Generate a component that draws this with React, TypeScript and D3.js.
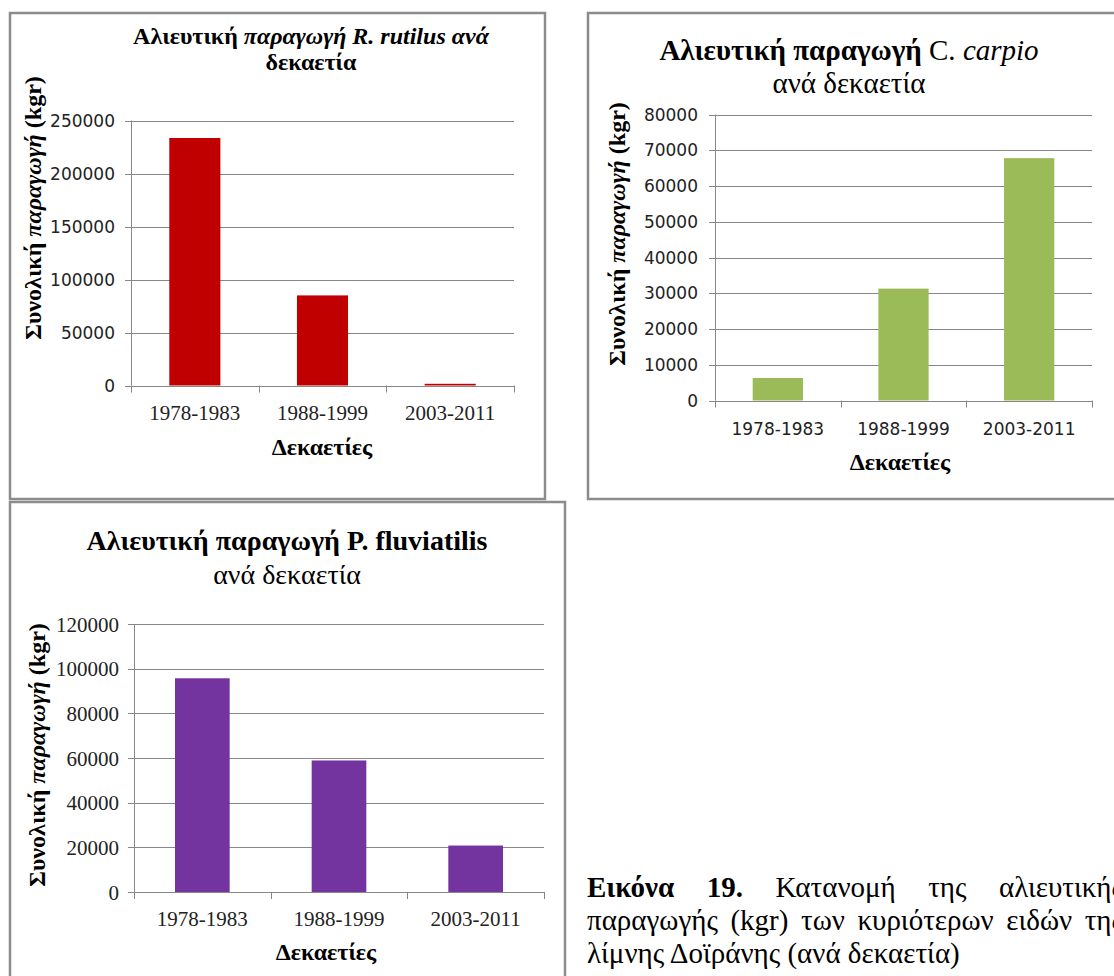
import React, { useEffect, useRef } from 'react';
import * as d3 from 'd3';

// decades on the x axis and production (kgr) per species
const decades = ['1978-1983', '1988-1999', '2003-2011'];
const rutilusProduction = [233500, 85000, 1600];
const carpioProduction = [6300, 31300, 67800];
const fluviatilisProduction = [95700, 58900, 20800];

const rutilusTicks = [0, 50000, 100000, 150000, 200000, 250000];
const carpioTicks = [0, 10000, 20000, 30000, 40000, 50000, 60000, 70000, 80000];
const fluviatilisTicks = [0, 20000, 40000, 60000, 80000, 100000, 120000];

const captionLine1 = ['Εικόνα', '19.', 'Κατανομή', 'της', 'αλιευτικής'];
const captionLine2 = ['παραγωγής', '(kgr)', 'των', 'κυριότερων', 'ειδών', 'της'];
const captionLine3 = 'λίμνης Δοϊράνης (ανά δεκαετία)';

const SERIF = '"Liberation Serif", "Times New Roman", serif';
const SANS = '"DejaVu Sans", Verdana, sans-serif';
const GRID = '#878787';
const FRAME = '#8c8c8c';

type Span = { t: string; bold?: boolean; italic?: boolean };

const charts = [
  {
    values: rutilusProduction,
    ticks: rutilusTicks,
    color: '#C00000',
    frame: { x: 10, y: 13, w: 535, h: 486 },
    plot: { left: 131, right: 514, top: 120.5, bottom: 385.5 },
    title: {
      x: 311, size: 24,
      lines: [
        { y: 44, spans: [{ t: 'Αλιευτική ', bold: true }, { t: 'παραγωγή ', bold: true, italic: true }, { t: 'R. rutilus ανά', bold: true, italic: true }] as Span[] },
        { y: 70, spans: [{ t: 'δεκαετία', bold: true }] as Span[] },
      ],
    },
    yTitle: { x: 33, y: 208, size: 24 },
    tickFont: SANS, tickSize: 17, tickRight: 115,
    catFont: SERIF, catSize: 21, catY: 420,
    xTitle: { x: 322, y: 455, size: 24 },
  },
  {
    values: carpioProduction,
    ticks: carpioTicks,
    color: '#9BBB59',
    frame: { x: 588, y: 13, w: 540, h: 486 },
    plot: { left: 715, right: 1092, top: 114.5, bottom: 400.5 },
    title: {
      x: 849, size: 29,
      lines: [
        { y: 60, spans: [{ t: 'Αλιευτική παραγωγή ', bold: true }, { t: 'C. ' }, { t: 'carpio', italic: true }] as Span[] },
        { y: 93, spans: [{ t: 'ανά δεκαετία' }] as Span[] },
      ],
    },
    yTitle: { x: 617, y: 234, size: 24 },
    tickFont: SANS, tickSize: 17, tickRight: 698,
    catFont: SANS, catSize: 17, catY: 435,
    xTitle: { x: 900, y: 470, size: 24 },
  },
  {
    values: fluviatilisProduction,
    ticks: fluviatilisTicks,
    color: '#7434A0',
    frame: { x: 10, y: 502, w: 555, h: 490 },
    plot: { left: 134, right: 544, top: 624, bottom: 892 },
    title: {
      x: 287, size: 28,
      lines: [
        { y: 550, spans: [{ t: 'Αλιευτική παραγωγή P. fluviatilis', bold: true }] as Span[] },
        { y: 584, spans: [{ t: 'ανά δεκαετία' }] as Span[] },
      ],
    },
    yTitle: { x: 37, y: 755, size: 24 },
    tickFont: SERIF, tickSize: 21, tickRight: 119,
    catFont: SERIF, catSize: 21, catY: 926,
    xTitle: { x: 326, y: 960, size: 24 },
  },
];

function addSpans(text: any, spans: Span[]) {
  spans.forEach(s => {
    text.append('tspan')
      .attr('font-weight', s.bold ? 'bold' : 'normal')
      .attr('font-style', s.italic ? 'italic' : 'normal')
      .text(s.t);
  });
}

function drawChart(svg: any, c: typeof charts[number]) {
  const g = svg.append('g');
  const { plot } = c;

  g.append('rect')
    .attr('x', c.frame.x).attr('y', c.frame.y)
    .attr('width', c.frame.w).attr('height', c.frame.h)
    .attr('fill', '#fff').attr('stroke', FRAME).attr('stroke-width', 2.5);

  const x = d3.scaleBand<string>()
    .domain(decades)
    .range([plot.left, plot.right])
    .paddingInner(0.6)
    .paddingOuter(0.3);
  const y = d3.scaleLinear()
    .domain([0, d3.max(c.ticks) as number])
    .range([plot.bottom, plot.top]);

  // gridlines with small outward ticks
  g.selectAll('.grid').data(c.ticks).enter().append('line')
    .attr('x1', plot.left - 6).attr('x2', plot.right)
    .attr('y1', (d: number) => Math.round(y(d)) + 0.5)
    .attr('y2', (d: number) => Math.round(y(d)) + 0.5)
    .attr('stroke', GRID).attr('stroke-width', 1);

  g.append('line')
    .attr('x1', plot.left + 0.5).attr('x2', plot.left + 0.5)
    .attr('y1', plot.top).attr('y2', plot.bottom)
    .attr('stroke', GRID);

  // category boundaries on the x axis
  const band = (plot.right - plot.left) / decades.length;
  const bounds = d3.range(decades.length + 1).map(i => plot.left + i * band);
  g.selectAll('.xtick').data(bounds).enter().append('line')
    .attr('x1', (d: number) => Math.round(d) + 0.5).attr('x2', (d: number) => Math.round(d) + 0.5)
    .attr('y1', plot.bottom).attr('y2', plot.bottom + 7)
    .attr('stroke', GRID);

  g.selectAll('.ylab').data(c.ticks).enter().append('text')
    .attr('x', c.tickRight)
    .attr('y', (d: number) => y(d))
    .attr('dy', '0.36em')
    .attr('text-anchor', 'end')
    .attr('font-family', c.tickFont)
    .attr('font-size', c.tickSize)
    .attr('fill', '#222')
    .text((d: number) => String(d));

  g.selectAll('.bar').data(c.values).enter().append('rect')
    .attr('x', (_d: number, i: number) => x(decades[i]) as number)
    .attr('y', (d: number) => y(d))
    .attr('width', x.bandwidth())
    .attr('height', (d: number) => plot.bottom - y(d))
    .attr('fill', c.color);

  g.selectAll('.cat').data(decades).enter().append('text')
    .attr('x', (d: string) => (x(d) as number) + x.bandwidth() / 2)
    .attr('y', c.catY)
    .attr('text-anchor', 'middle')
    .attr('font-family', c.catFont)
    .attr('font-size', c.catSize)
    .attr('fill', '#222')
    .text((d: string) => d);

  c.title.lines.forEach(line => {
    const t = g.append('text')
      .attr('x', c.title.x).attr('y', line.y)
      .attr('text-anchor', 'middle')
      .attr('font-family', SERIF)
      .attr('font-size', c.title.size)
      .attr('fill', '#000');
    addSpans(t, line.spans);
  });

  const yt = g.append('text')
    .attr('transform', `translate(${c.yTitle.x},${c.yTitle.y}) rotate(-90)`)
    .attr('text-anchor', 'middle')
    .attr('dy', '0.35em')
    .attr('font-family', SERIF)
    .attr('font-size', c.yTitle.size)
    .attr('fill', '#000');
  addSpans(yt, [
    { t: 'Συνολική ', bold: true },
    { t: 'παραγωγή', bold: true, italic: true },
    { t: ' (kgr)', bold: true },
  ]);

  g.append('text')
    .attr('x', c.xTitle.x).attr('y', c.xTitle.y)
    .attr('text-anchor', 'middle')
    .attr('font-family', SERIF)
    .attr('font-weight', 'bold')
    .attr('font-size', c.xTitle.size)
    .attr('fill', '#000')
    .text('Δεκαετίες');
}

function justifyLine(svg: any, words: string[], boldCount: number, x0: number, x1: number, yPos: number, size: number) {
  const nodes = words.map((w, i) => svg.append('text')
    .attr('y', yPos)
    .attr('font-family', SERIF)
    .attr('font-size', size)
    .attr('font-weight', i < boldCount ? 'bold' : 'normal')
    .attr('fill', '#000')
    .text(w));
  const widths = nodes.map((n: any) => (n.node() as SVGTextElement).getComputedTextLength());
  const gap = (x1 - x0 - d3.sum(widths)) / (words.length - 1);
  let cx = x0;
  nodes.forEach((n: any, i: number) => {
    n.attr('x', cx);
    cx += widths[i] + gap;
  });
}

export default function App() {
  const ref = useRef<SVGSVGElement>(null);

  useEffect(() => {
    document.body.style.margin = '0';
    document.body.style.overflow = 'hidden';
    const svg = d3.select(ref.current);
    svg.selectAll('*').remove();
    svg.append('rect').attr('width', 1114).attr('height', 976).attr('fill', '#fff');
    charts.forEach(c => drawChart(svg, c));

    const capSize = 29;
    justifyLine(svg, captionLine1, 2, 587, 1123, 897, capSize);
    justifyLine(svg, captionLine2, 0, 587, 1123, 930, capSize);
    svg.append('text')
      .attr('x', 587).attr('y', 963)
      .attr('font-family', SERIF)
      .attr('font-size', capSize)
      .attr('fill', '#000')
      .text(captionLine3);
  }, []);

  return <svg ref={ref} width={1114} height={976} style={{ display: 'block' }} />;
}
